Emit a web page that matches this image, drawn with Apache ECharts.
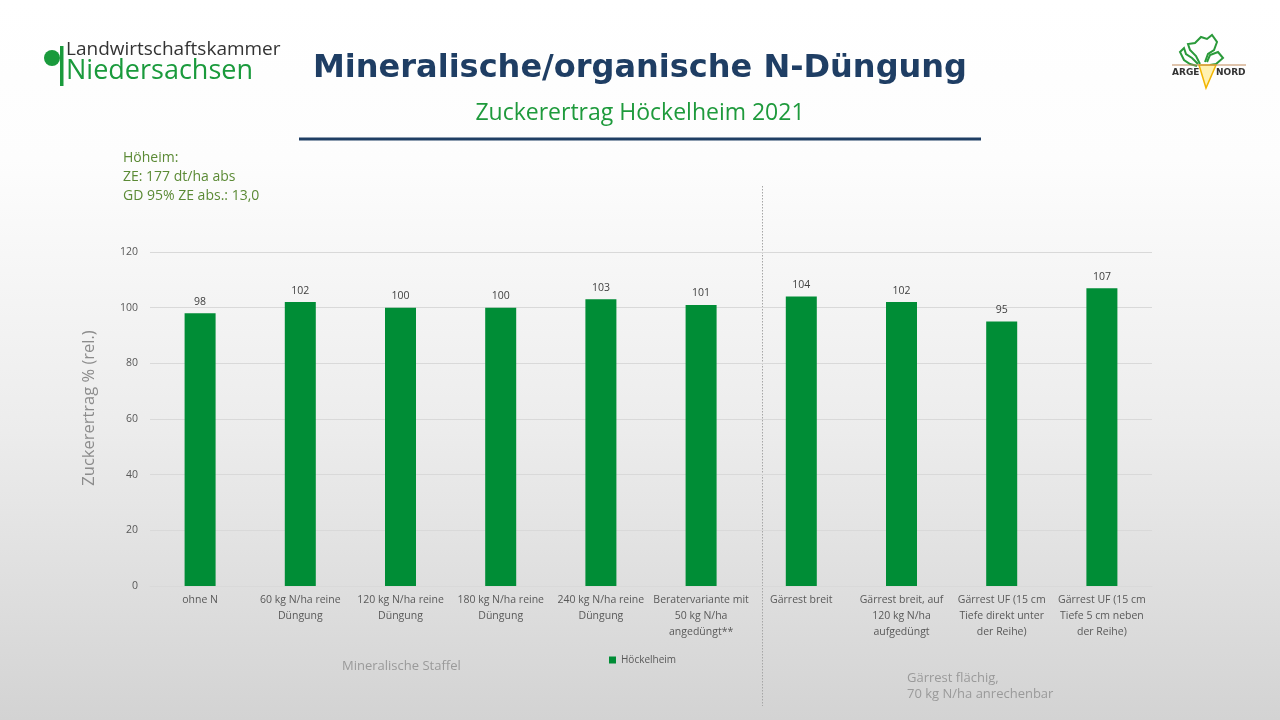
<!DOCTYPE html>
<html><head><meta charset="utf-8">
<script src="https://cdn.jsdelivr.net/npm/echarts@6/dist/echarts.min.js"></script>
<style>html,body{margin:0;padding:0;}#c{width:1280px;height:720px;}</style>
</head><body><div id="c"></div>
<script>
const categories = ['ohne N','60 kg N/ha reine\nDüngung','120 kg N/ha reine\nDüngung','180 kg N/ha reine\nDüngung','240 kg N/ha reine\nDüngung','Beratervariante mit\n50 kg N/ha\nangedüngt**','Gärrest breit','Gärrest breit, auf\n120 kg N/ha\naufgedüngt','Gärrest UF (15 cm\nTiefe direkt unter\nder Reihe)','Gärrest UF (15 cm\nTiefe 5 cm neben\nder Reihe)'];
const values = [98, 102, 100, 100, 103, 101, 104, 102, 95, 107];
const seriesName = 'Höckelheim';
const yTicks = {min: 0, max: 120, interval: 20};
const noteLines = ['Höheim:', 'ZE: 177 dt/ha abs', 'GD 95% ZE abs.: 13,0'];

const chart = echarts.init(document.getElementById('c'));
const F = '"Open Sans", "Noto Sans", sans-serif';
chart.setOption({
  backgroundColor: {type:'linear', x:0, y:0, x2:0, y2:1, colorStops:[
    {offset:0, color:'#ffffff'}, {offset:0.22, color:'#fdfdfd'}, {offset:0.6, color:'#ececec'}, {offset:1, color:'#d3d3d3'}]},
  textStyle: {fontFamily: F},
  title: [
    {text:'Mineralische/organische N-Düngung', left:'center', top:48,
     textStyle:{fontFamily:'"DejaVu Sans", sans-serif', fontWeight:'bold', fontSize:32, color:'#1f3e64'}},
    {text:'Zuckerertrag Höckelheim 2021', left:'center', top:97,
     textStyle:{fontFamily:F, fontWeight:'normal', fontSize:23, color:'#1e9a3c'}}
  ],
  legend: {data:[seriesName], left:604, top:650, itemWidth:7, itemHeight:7, icon:'rect',
    textStyle:{fontSize:10, color:'#595959', fontFamily:F}},
  grid: {left:150, right:128, top:252, bottom:134},
  xAxis: {type:'category', data: categories,
    axisLine:{show:true, lineStyle:{color:'#d9d9d9'}}, axisTick:{show:false},
    axisLabel:{interval:0, color:'#595959', fontSize:10.5, lineHeight:16, margin:6, fontFamily:F}},
  yAxis: {type:'value', min:yTicks.min, max:yTicks.max, interval:yTicks.interval,
    name:'Zuckerertrag % (rel.)', nameLocation:'middle', nameGap:52, nameRotate:90,
    nameTextStyle:{color:'#8c8c8c', fontSize:16.5, fontFamily:F, padding:[0,0,0,22]},
    axisLine:{show:false}, axisTick:{show:false},
    axisLabel:{color:'#595959', fontSize:10.5, margin:12, fontFamily:F},
    splitLine:{lineStyle:{color:'#d9d9d9'}}},
  series: [{name:seriesName, type:'bar', data: values, barWidth:31,
    itemStyle:{color:'#008d36'},
    label:{show:true, position:'top', distance:6, color:'#404040', fontSize:10.5, fontFamily:F}}],
  graphic: [
    {type:'rect', shape:{x:299, y:137.5, width:682, height:3}, style:{fill:'#1f3e64'}},
    {type:'text', left:123, top:149, style:{text: noteLines.join('\n'), fill:'#5b8a35', font:'14px "Open Sans", sans-serif', lineHeight:19}},
    {type:'line', shape:{x1:762.5, y1:186, x2:762.5, y2:706}, style:{stroke:'#a6a6a6', lineWidth:1, lineDash:[1.5,1.5]}},
    {type:'text', left:342, top:660, style:{text:'Mineralische Staffel', fill:'#9a9a9a', font:'13px "Open Sans", sans-serif'}},
    {type:'text', left:907, top:670, style:{text:'Gärrest flächig,\n70 kg N/ha anrechenbar', fill:'#9a9a9a', font:'13px "Open Sans", sans-serif', lineHeight:16}},
    // Landwirtschaftskammer logo
    {type:'circle', shape:{cx:52, cy:58, r:8}, style:{fill:'#1a9a3c'}},
    {type:'rect', shape:{x:60, y:46, width:3.5, height:40}, style:{fill:'#1a9a3c'}},
    {type:'text', left:66, top:40, style:{text:'Landwirtschaftskammer', fill:'#333333', font:'19px "Open Sans", sans-serif'}},
    {type:'text', left:66, top:58, style:{text:'Niedersachsen', fill:'#1a9a3c', font:'27px "Open Sans", sans-serif'}},
    // ARGE NORD logo
    {type:'polyline', shape:{points:[[1200,64],[1196,56],[1190,50],[1188,44],[1195,43],[1201,37],[1207,39],[1212,35],[1217,42],[1214,50],[1208,54],[1205,62]]}, style:{stroke:'#2a9a3a', lineWidth:2, fill:'none'}},
    {type:'polyline', shape:{points:[[1207,62],[1210,55],[1218,52],[1223,58],[1216,64],[1210,65]]}, style:{stroke:'#2a9a3a', lineWidth:2, fill:'none'}},
    {type:'polyline', shape:{points:[[1198,64],[1192,58],[1186,54],[1184,48],[1180,52],[1184,60],[1190,64],[1197,66]]}, style:{stroke:'#2a9a3a', lineWidth:2, fill:'none'}},
    {type:'polygon', shape:{points:[[1199,65],[1216,65],[1206,88]]}, style:{fill:'#fff1b0', stroke:'#f2b500', lineWidth:1.5}},
    {type:'line', shape:{x1:1172, y1:65, x2:1246, y2:65}, style:{stroke:'#c08a5a', lineWidth:1}},
    {type:'text', left:1172, top:68, style:{text:'ARGE', fill:'#333333', font:'bold 9px "DejaVu Sans", sans-serif'}},
    {type:'text', left:1216, top:68, style:{text:'NORD', fill:'#333333', font:'bold 9px "DejaVu Sans", sans-serif'}}
  ]
});
</script></body></html>
